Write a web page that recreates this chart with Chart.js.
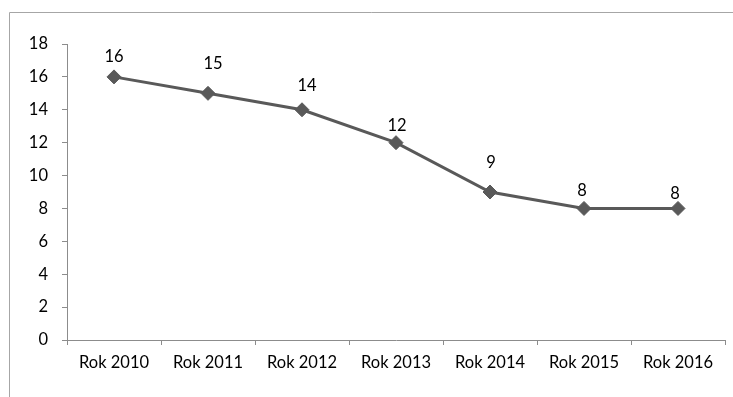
<!DOCTYPE html>
<html>
<head>
<meta charset="utf-8">
<script src="https://cdn.jsdelivr.net/npm/chart.js@4/dist/chart.umd.min.js"></script>
<style>
  html, body { margin: 0; padding: 0; background: #fff; }
  #wrap { width: 733px; height: 397px; position: relative; }
</style>
</head>
<body>
<div id="wrap"><canvas id="c" width="733" height="397"></canvas></div>
<script>
const categories = ['Rok 2010', 'Rok 2011', 'Rok 2012', 'Rok 2013', 'Rok 2014', 'Rok 2015', 'Rok 2016'];
const values = [16, 15, 14, 12, 9, 8, 8];
const yTicks = [0, 2, 4, 6, 8, 10, 12, 14, 16, 18];

const FONT = 'Lato, "Open Sans", sans-serif';
const LINE = '#595959';
const AXIS = '#8c8c8c';

// Outer frame (top and left edges of the chart border)
const framePlugin = {
  id: 'frame',
  beforeDraw(chart) {
    const ctx = chart.ctx;
    ctx.save();
    ctx.strokeStyle = '#a6a6a6';
    ctx.lineWidth = 1;
    ctx.beginPath();
    ctx.moveTo(9.5, 397);
    ctx.lineTo(9.5, 12.5);
    ctx.lineTo(733, 12.5);
    ctx.stroke();
    ctx.restore();
  }
};

// Value labels above each point; each label has its own nudge [dx, rise]
const labelNudges = [[0, 20], [5, 30], [5, 24], [1, 17], [1, 29], [-2, 18], [-3, 15]];
const valueLabels = {
  id: 'valueLabels',
  afterDatasetsDraw(chart) {
    const ctx = chart.ctx;
    const meta = chart.getDatasetMeta(0);
    ctx.save();
    ctx.fillStyle = '#000';
    ctx.font = '16.5px ' + FONT;
    ctx.textAlign = 'center';
    ctx.textBaseline = 'middle';
    meta.data.forEach((pt, i) => {
      const [dx, rise] = labelNudges[i];
      ctx.fillText(String(chart.data.datasets[0].data[i]), pt.x + dx, pt.y - rise);
    });
    ctx.restore();
  }
};

new Chart(document.getElementById('c'), {
  type: 'line',
  data: {
    labels: categories,
    datasets: [{
      data: values,
      borderColor: LINE,
      backgroundColor: LINE,
      borderWidth: 3,
      pointStyle: 'rectRot',
      pointRadius: 7,
      pointHoverRadius: 7,
      pointBorderWidth: 1,
      pointBackgroundColor: LINE,
      pointBorderColor: LINE,
      tension: 0
    }]
  },
  options: {
    responsive: false,
    animation: false,
    devicePixelRatio: 1,
    layout: { padding: { left: 0, right: 5, top: 44, bottom: 0 } },
    plugins: { legend: { display: false }, tooltip: { enabled: false } },
    scales: {
      x: {
        offset: true,
        grid: { offset: true, drawOnChartArea: false, drawTicks: true, tickLength: 5, color: AXIS },
        border: { display: true, color: AXIS, width: 1 },
        ticks: { color: '#000', font: { family: FONT, size: 16.5 }, padding: 8, maxRotation: 0, autoSkip: false },
        afterFit(scale) { scale.height = 57; }
      },
      y: {
        min: 0,
        max: 18,
        afterBuildTicks(scale) { scale.ticks = yTicks.map(v => ({ value: v })); },
        grid: { drawOnChartArea: false, drawTicks: true, tickLength: 5, color: AXIS },
        border: { display: true, color: AXIS, width: 1 },
        ticks: { color: '#000', font: { family: FONT, size: 16.5 }, padding: 14 },
        afterFit(scale) { scale.width = 67; }
      }
    }
  },
  plugins: [framePlugin, valueLabels]
});
</script>
</body>
</html>
